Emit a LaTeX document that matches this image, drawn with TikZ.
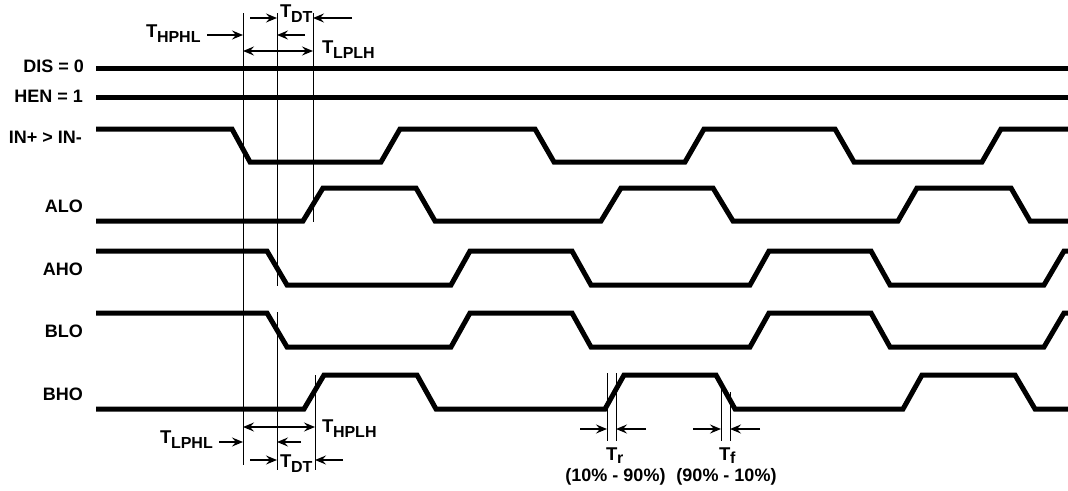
\documentclass[tikz,border=0pt]{standalone}
\usepackage{fontspec}
\setmainfont{Liberation Sans}
\usetikzlibrary{arrows.meta}
\newcommand{\Tsub}[1]{T\kern-0.5pt\raisebox{-5pt}{\fontsize{16}{16}\selectfont #1}}
\begin{document}
\begin{tikzpicture}[x=1pt,y=-1pt,
  sig/.style={line width=5pt},
  vl/.style={line width=1pt},
  tip/.tip={Stealth[length=11pt,width=9pt,inset=4pt]},
  arr/.style={line width=1.7pt,-tip},
  darr/.style={line width=1.7pt,tip-tip},
  lbl/.style={font=\fontsize{18}{18}\selectfont\bfseries,anchor=base east,inner sep=0pt},
  tl/.style={font=\fontsize{18.5}{18.5}\selectfont\bfseries,anchor=base west,inner sep=0pt},
  pct/.style={font=\fontsize{18}{18}\selectfont\bfseries,anchor=base,inner sep=0pt}]
\useasboundingbox (0,0) rectangle (1068,490);

% signal labels
\node[lbl] (ldis) at (84,72) {DIS = 0};
\node[lbl] (lhen) at (83,102) {HEN = 1};
\node[lbl] (lin)  at (82,143) {IN+ > IN-};
\node[lbl] (lalo) at (83,212) {ALO};
\node[lbl] (laho) at (83,275) {AHO};
\node[lbl] (lblo) at (83,337) {BLO};
\node[lbl] (lbho) at (83,400) {BHO};

% waveforms
\draw[sig] (96,68) -- (1068,68);
\draw[sig] (96,97) -- (1068,97);
\draw[sig] (96,129) -- (232,129) -- (250,162) -- (381,162) -- (400,129) -- (535,129) -- (554,162) -- (685,162) -- (704,129) -- (835,129) -- (854,162) -- (982,162) -- (1001,129) -- (1068,129);
\draw[sig] (96,221) -- (303,221) -- (323,188) -- (416,188) -- (435,221) -- (601,221) -- (621,188) -- (713,188) -- (733,221) -- (898,221) -- (917,188) -- (1011,188) -- (1030,221) -- (1068,221);
\draw[sig] (96,251) -- (267,251) -- (287,285) -- (451,285) -- (470,251) -- (572,251) -- (591,285) -- (750,285) -- (769,251) -- (871,251) -- (890,285) -- (1044,285) -- (1064,251) -- (1068,251);
\draw[sig] (96,313) -- (267,313) -- (287,347) -- (451,347) -- (470,313) -- (572,313) -- (591,347) -- (750,347) -- (769,313) -- (871,313) -- (890,347) -- (1044,347) -- (1064,313) -- (1068,313);
\draw[sig] (96,409) -- (304,409) -- (324,375) -- (417,375) -- (436,409) -- (605,409) -- (624,375) -- (716,375) -- (735,409) -- (903,409) -- (922,375) -- (1015,375) -- (1035,409) -- (1068,409);

% vertical reference lines
\coordinate (Atop) at (243,13);   \coordinate (Abot) at (243,465);
\coordinate (Btop) at (277,13);   \coordinate (Bmid) at (277,286);
\coordinate (Bmid2) at (277,312); \coordinate (Bbot) at (277,470);
\coordinate (Ctop) at (313,13);   \coordinate (Cbot) at (313,222);
\coordinate (Dtop) at (315,375);  \coordinate (Dbot) at (315,470);
\draw[vl] (Atop) -- (Abot);
\draw[vl] (Btop) -- (Bmid);
\draw[vl] (Bmid2) -- (Bbot);
\draw[vl] (Ctop) -- (Cbot);
\draw[vl] (Dtop) -- (Dbot);
\coordinate (R1top) at (607,373); \coordinate (R1bot) at (607,441);
\coordinate (R2top) at (616,373); \coordinate (R2bot) at (616,441);
\coordinate (F1top) at (721,381); \coordinate (F1bot) at (721,441);
\coordinate (F2top) at (730,392); \coordinate (F2bot) at (730,441);
\draw[vl] (R1top) -- (R1bot);
\draw[vl] (R2top) -- (R2bot);
\draw[vl] (F1top) -- (F1bot);
\draw[vl] (F2top) -- (F2bot);

% top annotations
\node[tl] (thphl) at (146,37) {\Tsub{HPHL}};
\node[tl] (tdt1) at (280,17) {\Tsub{DT}};
\node[tl] (tlplh) at (322,53) {\Tsub{LPLH}};
\draw[arr] (207,35) -- (243,35);
\draw[arr] (250,18) -- (277,18);
\draw[arr] (352,18) -- (313,18);
\draw[arr] (305,35) -- (277,35);
\draw[darr] (243,51) -- (313,51);

% bottom annotations
\node[tl] (thplh) at (322,432) {\Tsub{HPLH}};
\node[tl] (tlphl) at (160,443) {\Tsub{LPHL}};
\node[tl] (tdt2) at (280,467) {\Tsub{DT}};
\draw[darr] (243,427) -- (315,427);
\draw[arr] (219,442) -- (243,442);
\draw[arr] (301,442) -- (277,442);
\draw[arr] (250,460) -- (277,460);
\draw[arr] (343,460) -- (315,460);

% rise / fall
\draw[arr] (580,429) -- (607,429);
\draw[arr] (646,429) -- (616,429);
\draw[arr] (693,429) -- (721,429);
\draw[arr] (760,429) -- (730,429);
\node[tl] (tr) at (606,460) {T\kern-0.5pt\raisebox{-3pt}{\fontsize{16}{16}\selectfont r}};
\node[tl] (tf) at (719,460) {T\kern-0.5pt\raisebox{-3pt}{\fontsize{16}{16}\selectfont f}};
\node[pct] (pr) at (615.5,481) {(10\% - 90\%)};
\node[pct] (pf) at (726.5,481) {(90\% - 10\%)};
\end{tikzpicture}
\end{document}
